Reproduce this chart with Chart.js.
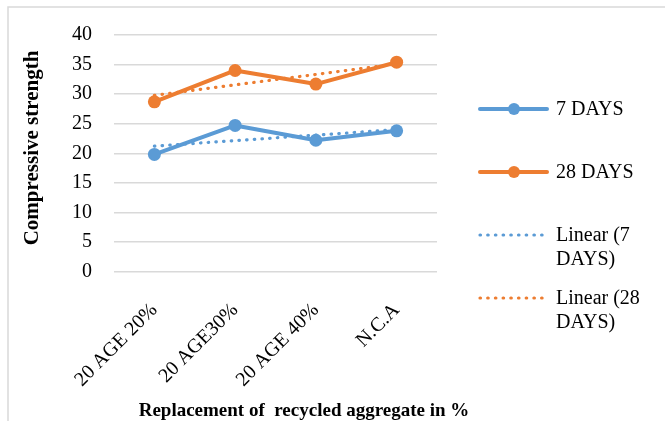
<!DOCTYPE html>
<html>
<head>
<meta charset="utf-8">
<script src="https://cdn.jsdelivr.net/npm/chart.js@4/dist/chart.umd.min.js"></script>
<style>
  html, body { margin: 0; padding: 0; background: #ffffff; }
  #wrap { width: 665px; height: 421px; }
</style>
</head>
<body>
<div id="wrap"><canvas id="chart" width="665" height="421"></canvas></div>
<script>
// Mix categories and compressive strength results
const categories = ['20 AGE 20%', '20 AGE30%', '20 AGE 40%', 'N.C.A'];
const days7 = [19.8, 24.7, 22.2, 23.8];
const days28 = [28.7, 34.0, 31.7, 35.4];
// Linear trend lines: start and end values (straight segment between them)
const trend7 = [21.2, null, null, 24.0];
const trend28 = [29.8, null, null, 35.1];
const yTicks = [0, 5, 10, 15, 20, 25, 30, 35, 40];

const BLUE = '#5B9BD5';
const ORANGE = '#ED7D31';
const SERIF = '"Liberation Serif", "Times New Roman", serif';
const DOTS = [0.5, 7.2];

const legendItems = [
  { lines: ['7 DAYS'], color: BLUE, dotted: false },
  { lines: ['28 DAYS'], color: ORANGE, dotted: false },
  { lines: ['Linear (7', 'DAYS)'], color: BLUE, dotted: true },
  { lines: ['Linear (28', 'DAYS)'], color: ORANGE, dotted: true }
];

// Frame, axis titles and side legend
const decorations = {
  id: 'decorations',
  beforeDraw(chart) {
    const ctx = chart.ctx;
    ctx.save();
    ctx.strokeStyle = '#D9D9D9';
    ctx.lineWidth = 1.5;
    ctx.beginPath();
    ctx.moveTo(8, 421);
    ctx.lineTo(8, 7);
    ctx.lineTo(665, 7);
    ctx.stroke();
    ctx.restore();
  },
  afterDraw(chart) {
    const ctx = chart.ctx;
    ctx.save();
    ctx.fillStyle = '#000000';

    // y axis title
    ctx.font = 'bold 21px ' + SERIF;
    ctx.textAlign = 'center';
    ctx.textBaseline = 'middle';
    ctx.translate(33, 148);
    ctx.rotate(-Math.PI / 2);
    ctx.fillText('Compressive strength', 0, 0);
    ctx.setTransform(1, 0, 0, 1, 0, 0);

    // x axis title
    ctx.font = 'bold 19px ' + SERIF;
    ctx.textAlign = 'center';
    ctx.textBaseline = 'alphabetic';
    ctx.fillText('Replacement of  recycled aggregate in %', 304, 416);

    // legend
    const rows = [109, 172, 235, 298];
    ctx.font = '20px ' + SERIF;
    ctx.textAlign = 'left';
    ctx.textBaseline = 'middle';
    legendItems.forEach((it, i) => {
      const y = rows[i];
      ctx.strokeStyle = it.color;
      ctx.lineWidth = it.dotted ? 3.2 : 4;
      ctx.lineCap = 'round';
      ctx.setLineDash(it.dotted ? DOTS : []);
      ctx.beginPath();
      ctx.moveTo(480, y);
      ctx.lineTo(547, y);
      ctx.stroke();
      ctx.setLineDash([]);
      if (!it.dotted) {
        ctx.fillStyle = it.color;
        ctx.beginPath();
        ctx.arc(514, y, 6, 0, Math.PI * 2);
        ctx.fill();
      }
      ctx.fillStyle = '#000000';
      it.lines.forEach((t, k) => ctx.fillText(t, 556, y + 1 + k * 24));
    });
    ctx.restore();
  }
};

new Chart(document.getElementById('chart'), {
  type: 'line',
  data: {
    labels: categories,
    datasets: [
      {
        label: 'Linear (7 DAYS)', data: trend7, order: 0,
        borderColor: BLUE, borderWidth: 3.2, borderDash: DOTS, borderCapStyle: 'round',
        pointRadius: 0, spanGaps: true, fill: false, tension: 0
      },
      {
        label: 'Linear (28 DAYS)', data: trend28, order: 0,
        borderColor: ORANGE, borderWidth: 3.2, borderDash: DOTS, borderCapStyle: 'round',
        pointRadius: 0, spanGaps: true, fill: false, tension: 0
      },
      {
        label: '7 DAYS', data: days7, order: 1,
        borderColor: BLUE, backgroundColor: BLUE, borderWidth: 4,
        pointRadius: 6.5, pointBackgroundColor: BLUE, pointBorderWidth: 0,
        borderJoinStyle: 'round', fill: false, tension: 0
      },
      {
        label: '28 DAYS', data: days28, order: 1,
        borderColor: ORANGE, backgroundColor: ORANGE, borderWidth: 4,
        pointRadius: 6.5, pointBackgroundColor: ORANGE, pointBorderWidth: 0,
        borderJoinStyle: 'round', fill: false, tension: 0
      }
    ]
  },
  options: {
    responsive: false,
    animation: false,
    devicePixelRatio: 1,
    layout: { padding: { left: 0, right: 228, top: 35, bottom: 0 } },
    plugins: { legend: { display: false }, tooltip: { enabled: false } },
    scales: {
      x: {
        offset: true,
        grid: { display: false, drawTicks: false },
        border: { display: false },
        ticks: {
          color: '#000000',
          font: { family: SERIF, size: 20 },
          minRotation: 45, maxRotation: 45,
          padding: 27, autoSkip: false
        },
        afterFit(scale) { scale.height = 149.5; }
      },
      y: {
        min: 0, max: 40,
        afterBuildTicks(scale) { scale.ticks = yTicks.map(v => ({ value: v })); },
        grid: { color: '#D9D9D9', lineWidth: 1.5, drawTicks: false },
        border: { display: false },
        ticks: {
          color: '#000000',
          font: { family: SERIF, size: 20 },
          padding: 22
        },
        afterFit(scale) { scale.width = 114; }
      }
    }
  },
  plugins: [decorations]
});
</script>
</body>
</html>
